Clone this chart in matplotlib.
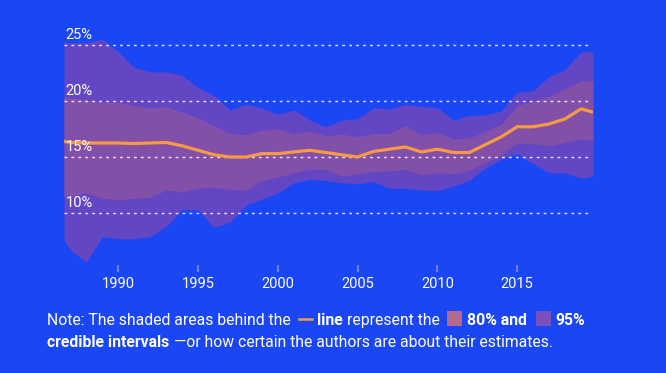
import matplotlib
matplotlib.use("Agg")
import matplotlib.pyplot as plt
from matplotlib.patches import Rectangle
from matplotlib.lines import Line2D

# Estimated share (%) with 80% and 95% credible intervals
years = [1986.6, 1987, 1988, 1989, 1990, 1991, 1992, 1993, 1994, 1995, 1996, 1997,
         1998, 1999, 2000, 2001, 2002, 2003, 2004, 2005, 2006, 2007, 2008, 2009,
         2010, 2011, 2012, 2013, 2014, 2015, 2016, 2017, 2018, 2019, 2019.75]
estimate = [16.4, 16.3, 16.25, 16.25, 16.25, 16.2, 16.25, 16.3, 16.0, 15.6, 15.2, 15.0,
            15.0, 15.3, 15.3, 15.45, 15.6, 15.4, 15.2, 15.0, 15.5, 15.7, 15.9, 15.45,
            15.7, 15.4, 15.4, 16.1, 16.8, 17.7, 17.7, 17.95, 18.4, 19.3, 19.0]
upper80 = [20.4, 20.3, 20.1, 19.9, 19.9, 19.6, 19.4, 19.5, 19.0, 18.5, 17.8, 17.1,
           17.0, 17.4, 17.5, 17.1, 17.3, 16.9, 17.05, 16.8, 17.1, 17.1, 17.8, 16.96,
           17.2, 16.6, 16.7, 17.3, 17.9, 19.6, 20.0, 20.4, 21.1, 21.8, 21.8]
lower80 = [11.4, 11.5, 11.8, 11.3, 11.2, 11.3, 11.4, 12.05, 11.9, 12.2, 12.3, 12.1,
           12.05, 12.9, 13.2, 13.6, 13.9, 13.9, 13.3, 13.5, 13.7, 13.75, 13.9, 13.4,
           13.6, 13.5, 13.8, 14.5, 15.2, 16.25, 16.2, 16.0, 16.3, 16.6, 16.5]
upper95 = [25.3, 25.2, 25.2, 25.5, 24.4, 23.0, 22.6, 22.6, 22.3, 21.2, 20.5, 19.2,
           19.7, 19.4, 18.8, 19.2, 18.3, 17.7, 18.3, 18.4, 19.4, 19.3, 19.7, 19.5,
           19.4, 18.3, 18.7, 18.75, 19.1, 20.8, 20.9, 22.2, 22.8, 24.4, 24.4]
lower95 = [7.6, 6.7, 5.6, 7.9, 7.7, 7.7, 7.9, 8.8, 10.3, 10.3, 8.7, 9.2,
           10.7, 11.25, 11.8, 12.7, 13.0, 12.9, 12.7, 12.6, 12.8, 12.2, 12.2, 12.05,
           12.0, 12.4, 12.9, 14.0, 14.8, 15.3, 14.4, 13.6, 13.6, 13.1, 13.3]

grid_values = [10, 15, 20, 25]
xticks = [1990, 1995, 2000, 2005, 2010, 2015]

BG = "#1a46f4"
C95 = "#6246c4"
C80 = "#8250a8"
ORANGE = "#f59a45"
W, H = 666, 373

plt.rcParams['font.family'] = ['Roboto', 'DejaVu Sans']

fig = plt.figure(figsize=(W / 100, H / 100), dpi=100, facecolor=BG)
# axes in pixel layout: left 64, right 593, top 30, bottom 265
ax = fig.add_axes([64 / W, (H - 265) / H, (593 - 64) / W, (265 - 30) / H])
ax.set_facecolor(BG)

ax.fill_between(years, lower95, upper95, color=C95, lw=0, clip_on=False)
ax.fill_between(years, lower80, upper80, color=C80, lw=0)
ax.hlines(grid_values, years[0], 2019.5, colors="white", linestyles=(0, (2, 3)),
          lw=1.0, alpha=0.85)
ax.plot(years, estimate, color=ORANGE, lw=2.3, solid_capstyle="butt")

for v in grid_values:
    ax.annotate(f"{v}%", (years[0], v), xytext=(1, 2.5), textcoords="offset points",
                color="white", fontsize=10.5, va="bottom", ha="left")

ax.set_xlim(years[0], years[-1])
ax.set_ylim((325 - 265) / 11.2, (325 - 30) / 11.2)
ax.set_xticks(xticks)
ax.set_xticklabels([str(y) for y in xticks])
ax.set_yticks([])
ax.tick_params(axis="x", colors="#8c86ec", length=5, width=1.2, pad=3.5,
               labelcolor="white", labelsize=10.5)
for s in ax.spines.values():
    s.set_visible(False)

# Note text with inline legend
renderer = fig.canvas.get_renderer()
FS = 11.3


def put_text(x, y, s, bold=False):
    t = fig.text(x / W, 1 - y / H, s, color="white", fontsize=FS,
                 fontweight="bold" if bold else "normal", va="baseline", ha="left")
    return x + t.get_window_extent(renderer).width


gap = 4.5
x = 47
base1 = 325
x = put_text(x, base1, "Note: The shaded areas behind the") + gap + 4
fig.add_artist(Line2D([x / W, (x + 13) / W], [1 - 319 / H, 1 - 319 / H],
                      color=ORANGE, lw=1.8, transform=fig.transFigure))
x += 13 + gap
x = put_text(x, base1, "line", bold=True) + gap
x = put_text(x, base1, "represent the") + gap + 3
fig.add_artist(Rectangle((x / W, 1 - 326 / H), 15 / W, 15 / H, color="#b46a8c",
                         transform=fig.transFigure, lw=0))
x += 15 + gap
x = put_text(x, base1, "80% and", bold=True) + gap + 5
fig.add_artist(Rectangle((x / W, 1 - 326 / H), 15 / W, 15 / H, color="#7a50be",
                         transform=fig.transFigure, lw=0))
x += 15 + gap
put_text(x, base1, "95%", bold=True)

base2 = 347
x = 47
x = put_text(x, base2, "credible intervals", bold=True) + gap
put_text(x, base2, "\u2014or how certain the authors are about their estimates.")

fig.savefig("out.png", dpi=100, facecolor=BG)
